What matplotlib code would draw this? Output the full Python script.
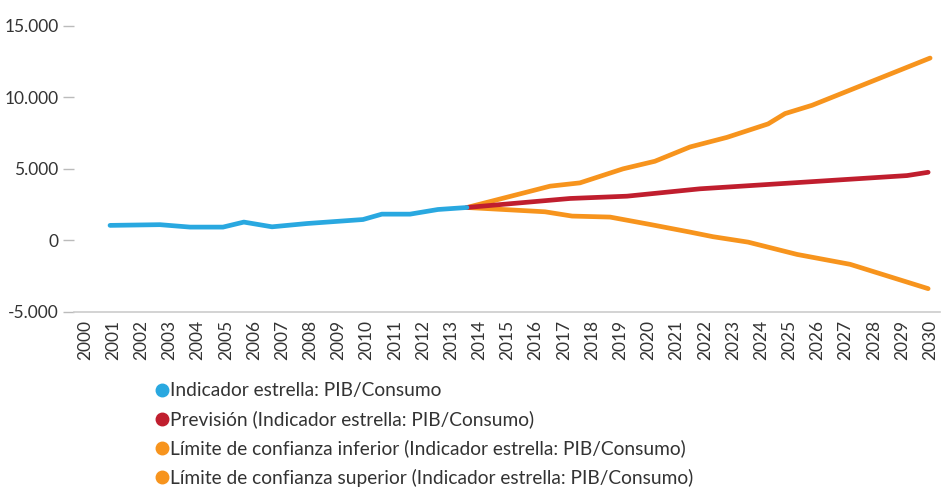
import matplotlib.pyplot as plt
from matplotlib.ticker import FuncFormatter
from matplotlib.lines import Line2D

plt.rcParams['font.family'] = ['Lato', 'DejaVu Sans']

# x positions (fractional years), values in units
hist_x = [2000.89, 2002.66, 2003.73, 2004.90, 2005.64, 2006.64, 2007.88,
          2009.87, 2010.54, 2011.54, 2012.53, 2013.56]
hist_y = [1050, 1100, 930, 930, 1280, 950, 1180, 1460, 1835, 1835, 2160, 2300]

prev_x = [2013.56, 2017.22, 2019.24, 2021.83, 2029.18, 2029.93]
prev_y = [2300, 2930, 3090, 3605, 4530, 4760]

inf_x = [2013.56, 2016.33, 2017.29, 2018.64, 2020.06, 2021.48, 2022.29,
         2023.54, 2025.28, 2027.16, 2029.93]
inf_y = [2300, 2000, 1700, 1630, 1115, 580, 260, -120, -980, -1670, -3370]

sup_x = [2013.56, 2016.51, 2017.57, 2019.10, 2020.23, 2021.48, 2022.79,
         2024.25, 2024.85, 2025.81, 2030.0]
sup_y = [2300, 3790, 4020, 5000, 5530, 6530, 7200, 8140, 8860, 9440, 12740]

years = list(range(2000, 2031))
yticks = [-5000, 0, 5000, 10000, 15000]

labels = ['Indicador estrella: PIB/Consumo',
          'Previsión (Indicador estrella: PIB/Consumo)',
          'Límite de confianza inferior (Indicador estrella: PIB/Consumo)',
          'Límite de confianza superior (Indicador estrella: PIB/Consumo)']
colors = ['#29A8E0', '#C01E2E', '#F7941D', '#F7941D']

fig = plt.figure(figsize=(9.41, 4.91), dpi=100)
ax = fig.add_axes([0.0786, 0.3646, 0.9203, 0.5947])

lw = 3.4
ax.plot(inf_x, inf_y, color=colors[2], lw=lw, solid_capstyle='round')
ax.plot(sup_x, sup_y, color=colors[3], lw=lw, solid_capstyle='round')
ax.plot(prev_x, prev_y, color=colors[1], lw=lw, solid_capstyle='round')
ax.plot(hist_x, hist_y, color=colors[0], lw=lw, solid_capstyle='round')

ax.set_xlim(1999.61, 2030.35)
ax.set_ylim(-5000, 15400)
ax.set_xticks(years)
ax.set_xticklabels([str(y) for y in years], rotation=90, fontsize=12.5,
                   color='#333333')
ax.set_yticks(yticks)
ax.yaxis.set_major_formatter(
    FuncFormatter(lambda v, p: f'{int(v):,}'.replace(',', '.')))
ax.tick_params(axis='y', labelsize=12.5, labelcolor='#333333', length=8,
               color='#bbbbbb', width=1, pad=3)
ax.tick_params(axis='x', length=0, pad=6)

for s in ['top', 'right', 'left']:
    ax.spines[s].set_visible(False)
ax.spines['bottom'].set_color('#cccccc')
ax.spines['bottom'].set_linewidth(1.2)

# legend below the plot, one entry per row
handles = [Line2D([], [], marker='o', ls='', color=c, markersize=9)
           for c in colors]
fig.legend(handles, labels, loc='upper left', bbox_to_anchor=(0.152, 0.237),
           frameon=False, fontsize=13.8, handletextpad=-0.2, labelspacing=0.58,
           borderaxespad=0, handlelength=1.2, labelcolor='#333333')

fig.savefig('out.png', dpi=100)
